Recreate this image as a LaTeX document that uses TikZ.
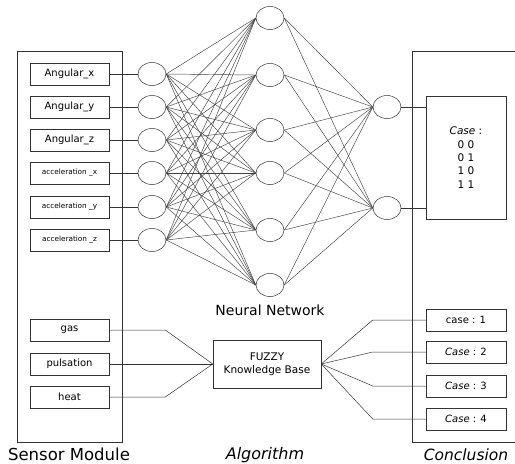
\documentclass[tikz,border=0pt]{standalone}
\usepackage{fontspec}
\setmainfont{DejaVu Sans}
\usetikzlibrary{shapes.geometric}

\tikzset{
  sensorbox/.style={draw, minimum width=79pt, minimum height=22pt, inner sep=0pt},
  casebox/.style={draw, minimum width=80pt, minimum height=22pt, inner sep=0pt},
  neuron/.style={draw, ellipse, minimum width=28pt, minimum height=23pt, inner sep=0pt},
  net/.style={black!75, line width=0.45pt},
  caption/.style={font=\fontsize{16.5}{18}\selectfont}
}

\begin{document}
\begin{tikzpicture}[x=1pt, y=-1pt, line width=0.5pt, draw=black!80,
  every node/.style={font=\fontsize{10}{11}\selectfont}]
\useasboundingbox (0,0) rectangle (515,464);

% frames of sensor module and conclusion
\draw (17,51) rectangle (122,442);
\draw (516,51) -- (412,51) -- (412,442) -- (516,442);

% sensors feeding the input layer
\foreach \n/\txt/\y in {1/Angular\_x/74, 2/Angular\_y/107, 3/Angular\_z/140}
{
  \node[sensorbox] (s\n) at (69.5,\y) {\txt};
  \node[neuron] (i\n) at (152,\y) {};
  \draw (s\n) -- (i\n);
}
\foreach \n/\txt/\y in {4/acceleration \_x/173, 5/acceleration \_y/207, 6/acceleration \_z/240}
{
  \node[sensorbox, font=\fontsize{7.3}{8}\selectfont] (s\n) at (69.5,\y) {\txt};
  \node[neuron] (i\n) at (152,\y) {};
  \draw (s\n) -- (i\n);
}

% hidden and output layers
\foreach \h/\y in {1/18, 2/75, 3/130, 4/173, 5/230, 6/285}
  \node[neuron] (h\h) at (270,\y) {};
\node[neuron] (o1) at (387,107) {};
\node[neuron] (o2) at (387,208) {};

\foreach \i in {1,...,6}
  \foreach \h in {1,...,6}
    \draw[net] (i\i.east) -- (h\h.west);
\foreach \h in {1,...,6}
  \foreach \o in {1,2}
    \draw[net] (h\h.east) -- (o\o.west);

\node[font=\fontsize{14}{15}\selectfont] (nnlabel) at (270,310) {Neural Network};

% neural network result
\node[draw, minimum width=80pt, minimum height=123pt, align=center,
  font=\fontsize{10.5}{13.3}\selectfont] (result) at (466,157.5)
  {\textit{Case} :\\0 0\\0 1\\1 0\\1 1};
\draw (o1.east) -- (o1.east -| result.west);
\draw (o2.east) -- (o2.east -| result.west);

% fuzzy part
\node[sensorbox] (gas) at (69.5,330) {gas};
\node[sensorbox] (pulsation) at (69.5,364) {pulsation};
\node[sensorbox] (heat) at (69.5,397) {heat};

\node[draw, minimum width=108pt, minimum height=48pt, align=center,
  font=\fontsize{10.5}{13}\selectfont] (fuzzy) at (267,364)
  {FUZZY\\Knowledge Base};

\draw (gas.east) -- ++(56,0) -- (fuzzy.west);
\draw (pulsation.east) -- (fuzzy.west);
\draw (heat.east) -- ++(56,0) -- (fuzzy.west);

\node[casebox] (case1) at (466,320) {case : 1};
\node[casebox] (case2) at (466,352) {\textit{Case} : 2};
\node[casebox] (case3) at (466,386) {\textit{Case} : 3};
\node[casebox] (case4) at (466,419) {\textit{Case} : 4};
\foreach \c in {1,...,4}
  \draw (case\c.west) -- ++(-53,0) -- (fuzzy.east);

% captions
\node[caption] (sensorlabel) at (69,454) {Sensor Module};
\node[caption, font=\fontsize{16}{18}\selectfont\itshape] (alglabel) at (265,455) {Algorithm};
\node[caption, font=\fontsize{15.5}{18}\selectfont\itshape] (conclabel) at (466,455) {Conclusion};
\end{tikzpicture}
\end{document}
